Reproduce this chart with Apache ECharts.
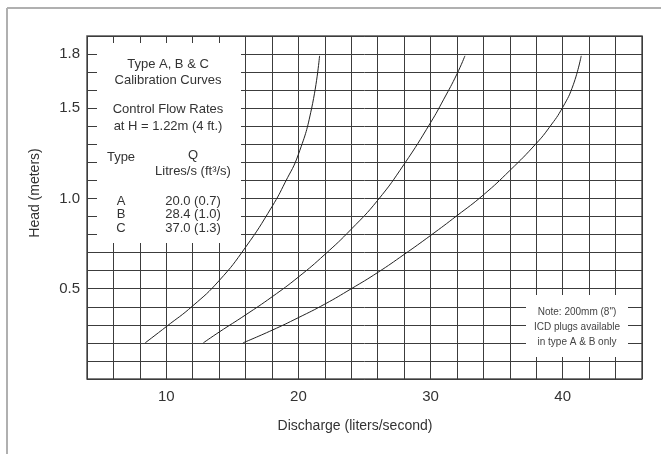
<!DOCTYPE html>
<html>
<head>
<meta charset="utf-8">
<script src="https://cdn.jsdelivr.net/npm/echarts/dist/echarts.min.js"></script>
<style>
html,body{margin:0;padding:0;background:#fff;}
#c{width:661px;height:454px;}
</style>
</head>
<body>
<div id="c"></div>
<script>
// ---- data ----
const curveA = [[8.4,0.20],[10,0.29],[12,0.405],[14,0.545],[16,0.73],[18,0.955],[19,1.09],[20,1.245],[21,1.50],[21.6,1.79]];
const curveB = [[12.8,0.20],[14,0.26],[16,0.355],[18,0.455],[20,0.565],[22,0.69],[24,0.83],[26,0.99],[28,1.19],[30,1.42],[31,1.55],[32,1.69],[32.6,1.79]];
const curveC = [[15.8,0.20],[18,0.27],[20,0.34],[22,0.415],[24,0.50],[26,0.59],[28,0.69],[30,0.795],[32,0.905],[34,1.02],[36,1.155],[38,1.305],[39,1.395],[40,1.505],[40.8,1.63],[41.4,1.79]];
const xTickLabels = [10, 20, 30, 40];
const yTickLabels = [0.5, 1.0, 1.5, 1.8];
const flowTypes = ['A', 'B', 'C'];
const flowLps = [20.0, 28.4, 37.0];
const flowCfs = [0.7, 1.0, 1.3];
const boxTitle = ['Type A, B & C', 'Calibration Curves'];
const boxSub = ['Control Flow Rates', 'at H = 1.22m (4 ft.)'];
const noteLines = ['Note: 200mm (8")', 'ICD plugs available', 'in type A & B only'];

// ---- chart ----
const FONT = '"Liberation Sans", Arial, sans-serif';
const chart = echarts.init(document.getElementById('c'));
const txt = (s, x, y, size, color, align) => ({
  type: 'text', z: 20,
  style: { text: s, x: x, y: y, fontSize: size, fontFamily: FONT, fill: color || '#333',
           textAlign: align || 'center', textVerticalAlign: 'middle' }
});
const graphics = [
  { type: 'line', z: 20, shape: { x1: 7, y1: 8, x2: 661, y2: 8 }, style: { stroke: '#b0b0b0', lineWidth: 2 } },
  { type: 'line', z: 20, shape: { x1: 7, y1: 8, x2: 7, y2: 454 }, style: { stroke: '#b0b0b0', lineWidth: 2 } },
  { type: 'rect', z: 15, shape: { x: 97, y: 43, width: 144, height: 200 }, style: { fill: '#fff' } },
  { type: 'rect', z: 15, shape: { x: 526, y: 295, width: 102, height: 62 }, style: { fill: '#fff' } },
  txt(boxTitle[0], 168, 64, 13),
  txt(boxTitle[1], 168, 80, 13),
  txt(boxSub[0], 168, 109, 13),
  txt(boxSub[1], 168, 126, 13),
  txt('Type', 121, 157, 13),
  txt('Q', 193, 155, 13),
  txt('Litres/s (ft³/s)', 193, 171, 13),
  txt('Discharge (liters/second)', 355, 426, 14),
  { type: 'text', z: 20, rotation: Math.PI / 2, x: 35, y: 193,
    style: { text: 'Head (meters)', x: 0, y: 0, fontSize: 14, fontFamily: FONT, fill: '#333',
             textAlign: 'center', textVerticalAlign: 'middle' } }
];
const rowY = [201, 214, 228];
flowTypes.forEach((t, i) => {
  graphics.push(txt(t, 121, rowY[i], 13));
  graphics.push(txt(flowLps[i].toFixed(1) + ' (' + flowCfs[i].toFixed(1) + ')', 193, rowY[i], 13));
});
const noteY = [312, 327, 342];
noteLines.forEach((s, i) => graphics.push(txt(s, 577, noteY[i], 10, '#444')));

const lineSeries = (data) => ({
  type: 'line', data: data, smooth: 0.5, showSymbol: false, z: 5,
  lineStyle: { color: '#222', width: 1 }
});

chart.setOption({
  animation: false,
  backgroundColor: '#fff',
  grid: { left: 87, top: 36, right: 19, bottom: 75, show: true, borderColor: '#555', borderWidth: 1.5, backgroundColor: 'transparent' },
  xAxis: {
    type: 'value', min: 4, max: 46, interval: 2,
    axisLine: { show: false }, axisTick: { show: false },
    splitLine: { show: true, lineStyle: { color: '#3c3c3c', width: 1 } },
    axisLabel: {
      fontSize: 15, fontFamily: FONT, color: '#333', margin: 10,
      formatter: v => xTickLabels.some(t => Math.abs(t - v) < 1e-6) ? String(Math.round(v)) : ''
    }
  },
  yAxis: {
    type: 'value', min: 0, max: 1.9, interval: 0.1,
    axisLine: { show: false }, axisTick: { show: false },
    splitLine: { show: true, lineStyle: { color: '#3c3c3c', width: 1 } },
    axisLabel: {
      fontSize: 15, fontFamily: FONT, color: '#333', margin: 7,
      formatter: v => { const t = yTickLabels.find(t => Math.abs(t - v) < 1e-6); return t === undefined ? '' : t.toFixed(1); }
    }
  },
  series: [lineSeries(curveA), lineSeries(curveB), lineSeries(curveC)],
  graphic: graphics
});
</script>
</body>
</html>
